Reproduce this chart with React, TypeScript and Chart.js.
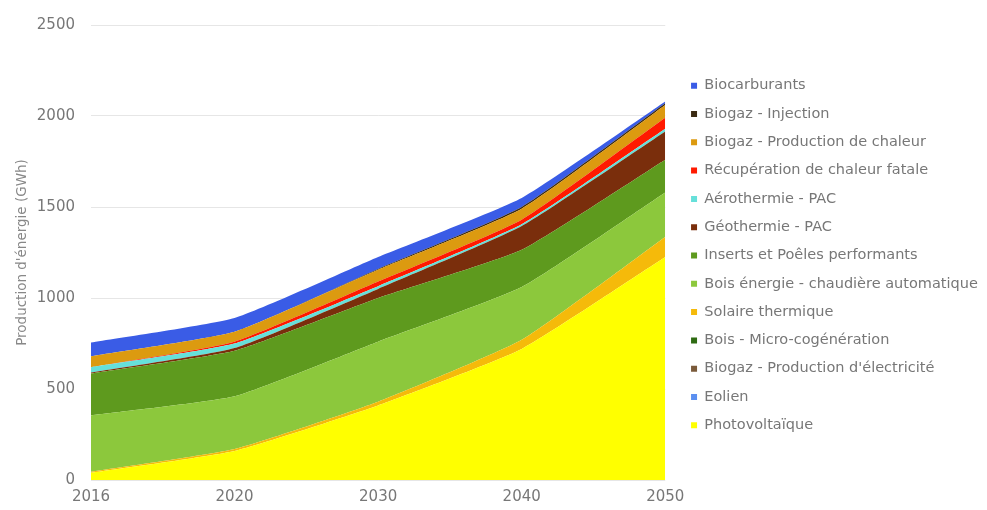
import React, { useEffect, useRef } from "react";
import { Chart, registerables } from "chart.js";

Chart.register(...registerables);

const years = ["2016", "2020", "2030", "2040", "2050"];

const photovoltaique = [40, 160, 410, 720, 1225];
const eolien = [0, 0, 0, 0, 0];
const biogazElec = [0, 0, 0, 0, 0];
const boisMicroCogen = [0, 0, 0, 0, 0];
const solaireThermique = [5, 10, 20, 50, 110];
const boisEnergie = [310, 290, 330, 290, 245];
const insertsPoeles = [230, 250, 240, 205, 180];
const geothermie = [5, 15, 50, 130, 155];
const aerothermie = [30, 25, 15, 10, 15];
const recuperation = [0, 10, 25, 25, 60];
const biogazChaleur = [60, 55, 65, 60, 70];
const biogazInjection = [0, 0, 5, 10, 10];
const biocarburants = [75, 75, 65, 50, 10];

const yTicks = [0, 500, 1000, 1500, 2000, 2500];

const series = [
  { label: "Photovoltaïque", data: photovoltaique, color: "#FFFF00" },
  { label: "Eolien", data: eolien, color: "#5B8FF0" },
  { label: "Biogaz - Production d'électricité", data: biogazElec, color: "#7A5A3A" },
  { label: "Bois - Micro-cogénération", data: boisMicroCogen, color: "#2E6B12" },
  { label: "Solaire thermique", data: solaireThermique, color: "#F5BA0A" },
  { label: "Bois énergie - chaudière automatique", data: boisEnergie, color: "#8CC83C" },
  { label: "Inserts et Poêles performants", data: insertsPoeles, color: "#5E9A1E" },
  { label: "Géothermie - PAC", data: geothermie, color: "#7A2E0C" },
  { label: "Aérothermie - PAC", data: aerothermie, color: "#66E0DA" },
  { label: "Récupération de chaleur fatale", data: recuperation, color: "#FF1A00" },
  { label: "Biogaz - Production de chaleur", data: biogazChaleur, color: "#DC9A10" },
  { label: "Biogaz - Injection", data: biogazInjection, color: "#3B2A12" },
  { label: "Biocarburants", data: biocarburants, color: "#3A5CE6" },
];

const FONT = "DejaVu Sans, Verdana, sans-serif";

const legendShift = {
  id: "legendShift",
  afterLayout(chart: any) {
    const lg = chart.legend;
    if (lg) {
      lg.left += 12;
      lg.right = chart.width;
      lg.width = lg.right - lg.left;
      lg.top -= 10;
      lg.bottom -= 10;
    }
  },
};

export default function App() {
  const ref = useRef<HTMLCanvasElement | null>(null);

  useEffect(() => {
    document.body.style.margin = "0";
    const ctx = ref.current;
    if (!ctx) return;
    const chart = new Chart(ctx, {
      type: "line",
      data: {
        labels: years,
        datasets: series.map((s, i) => ({
          label: s.label,
          data: s.data,
          backgroundColor: s.color,
          borderColor: s.color,
          borderWidth: 0,
          pointRadius: 0,
          fill: i === 0 ? "origin" : "-1",
          tension: 0.15,
        })),
      },
      plugins: [legendShift],
      options: {
        animation: false,
        responsive: false,
        maintainAspectRatio: false,
        layout: { padding: { left: 0, right: 100, top: 25, bottom: 4 } },
        plugins: {
          tooltip: { enabled: false },
          legend: {
            position: "right",
            reverse: true,
            labels: {
              boxWidth: 6,
              boxHeight: 6,
              padding: 13.8,
              color: "#777",
              font: { family: FONT, size: 14.5 },
            },
          },
        },
        scales: {
          x: {
            offset: false,
            afterFit: (axis: any) => {
              axis.height = 26;
            },
            grid: { display: false, drawTicks: false },
            border: { display: false },
            ticks: {
              color: "#777",
              padding: 8,
              font: { family: FONT, size: 15 },
              maxRotation: 0,
            },
          },
          y: {
            stacked: true,
            min: 0,
            max: 2500,
            afterFit: (axis: any) => {
              axis.width = 91;
            },
            afterBuildTicks: (axis: any) => {
              axis.ticks = yTicks.map((v) => ({ value: v }));
            },
            grid: { color: "#e6e6e6", drawTicks: false },
            border: { display: false },
            ticks: {
              color: "#777",
              padding: 16,
              font: { family: FONT, size: 15 },
              callback: (v: any) => String(v),
            },
            title: {
              display: true,
              text: "Production d'énergie (GWh)",
              color: "#888",
              padding: { top: 14, bottom: 0 },
              font: { family: FONT, size: 13.5 },
            },
          },
        },
      },
    });
    return () => chart.destroy();
  }, []);

  return (
    <div style={{ width: 987, height: 510 }}>
      <canvas ref={ref} width={987} height={510} />
    </div>
  );
}
